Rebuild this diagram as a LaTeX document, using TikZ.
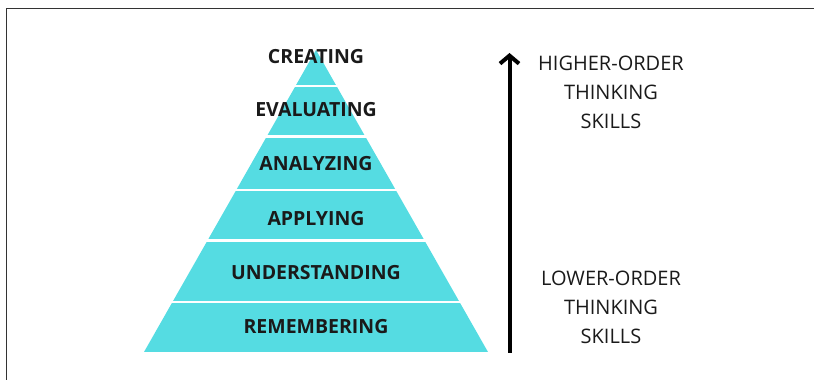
\documentclass[tikz,border=0pt]{standalone}
\usepackage{fontspec}
\setmainfont{Open Sans}
\usetikzlibrary{arrows.meta}
\definecolor{layercyan}{HTML}{55DCE2}
\definecolor{inkdark}{HTML}{1A1A1A}

\begin{document}
\begin{tikzpicture}[x=1pt,y=1pt,
    level/.style={font=\fontsize{19.5}{21}\selectfont\bfseries, text=inkdark, inner sep=0pt},
    skills/.style={font=\fontsize{20}{29}\selectfont, text=inkdark, align=center, inner sep=0pt}]
        \useasboundingbox (0,0) rectangle (814,380);

        % frame
        \draw[line width=1.6pt, black!80] (6.5,0) -- (6.5,371.5) -- (814,371.5);

        % pyramid
        \fill[layercyan] (144,28) -- (316,330) -- (488,28) -- cycle;
        \foreach \y in {294,243.3,189.8,139.4,77.8}
            \draw[white, line width=2.5pt] (130,\y) -- (500,\y);

        % levels
        \node[level] (create) at (316,323.3) {CREATING};
        \node[level] (evaluate) at (316,270) {EVALUATING};
        \node[level] (analyze) at (316,216) {ANALYZING};
        \node[level] (apply) at (316,161) {APPLYING};
        \node[level] (understand) at (316,107.3) {UNDERSTANDING};
        \node[level] (remember) at (316,53.3) {REMEMBERING};

        % arrow
        \coordinate (low) at (509.5,27);
        \coordinate (high) at (509.5,327);
        \draw[line width=4pt, -{Straight Barb[length=8pt,width=19pt,line width=4pt]}] (low) -- (high);

        % skill labels
        \node[skills] (higher) at (611,287.5) {HIGHER-ORDER\\THINKING\\SKILLS};
        \node[skills] (lower) at (611,72.5) {LOWER-ORDER\\THINKING\\SKILLS};
    \end{tikzpicture}
\end{document}
